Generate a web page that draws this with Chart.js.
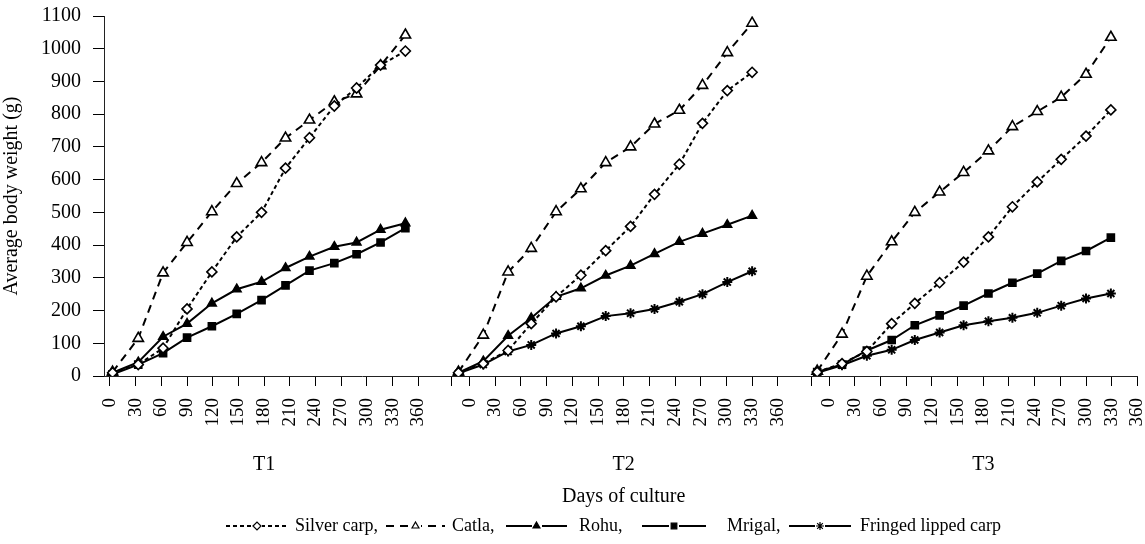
<!DOCTYPE html>
<html>
<head>
<meta charset="utf-8">
<script src="https://cdn.jsdelivr.net/npm/chart.js@4.4.0/dist/chart.umd.min.js"></script>
<style>
  html, body { margin: 0; padding: 0; background: #fff; }
</style>
</head>
<body>
<canvas id="growth-chart" width="1145" height="544"></canvas>
<script>
// panels and axis labels
const panelNames = ["T1", "T2", "T3"];
const dayLabels = [0, 30, 60, 90, 120, 150, 180, 210, 240, 270, 300, 330, 360];

// sampling positions (days)
const daysT1 = [3, 33, 62, 90, 119, 148, 177, 205, 233, 262, 288, 316, 345];
const daysT2 = [-13, 16, 45, 72, 101, 130, 159, 188, 216, 245, 272, 301, 330];
const daysT3 = [-14, 15, 44, 73, 100, 129, 157, 186, 214, 243, 271, 300, 329];

// average body weight (g)
const silverT1 = [10, 35, 85, 205, 318, 425, 500, 635, 728, 825, 880, 950, 993];
const silverT2 = [10, 38, 78, 160, 242, 308, 383, 457, 555, 647, 772, 872, 928];
const silverT3 = [12, 38, 75, 160, 222, 285, 348, 425, 517, 593, 662, 733, 813];

const catlaT1 = [12, 115, 315, 408, 502, 588, 652, 727, 782, 838, 862, 948, 1042];
const catlaT2 = [12, 125, 318, 390, 502, 572, 652, 700, 770, 812, 888, 988, 1078];
const catlaT3 = [15, 128, 305, 410, 500, 562, 622, 688, 762, 808, 852, 922, 1035];

const rohuT1 = [10, 42, 120, 160, 222, 265, 288, 330, 365, 395, 408, 447, 467];
const rohuT2 = [10, 45, 123, 177, 242, 268, 307, 337, 373, 410, 435, 462, 490];
const rohuT3 = [];

const mrigalT1 = [5, 35, 70, 117, 152, 190, 232, 277, 322, 345, 372, 408, 452];
const mrigalT2 = [];
const mrigalT3 = [12, 35, 78, 110, 155, 185, 215, 252, 285, 313, 352, 382, 423];

const fringedT1 = [];
const fringedT2 = [8, 35, 75, 95, 130, 152, 183, 192, 205, 227, 250, 287, 320];
const fringedT3 = [10, 33, 62, 80, 110, 133, 155, 167, 178, 193, 215, 237, 252];

const PANEL_SPAN = 420; // one empty slot between panels
const panelDays = [daysT1, daysT2, daysT3];
const FONT = "'Liberation Serif', 'Times New Roman', serif";

function series(t1, t2, t3) {
  const out = [];
  [t1, t2, t3].forEach((vals, p) => {
    vals.forEach((v, i) => out.push({ x: p * PANEL_SPAN + panelDays[p][i], y: v }));
    out.push({ x: p * PANEL_SPAN + 390, y: null });
  });
  return out;
}

function tickValues() {
  const vals = [];
  panelNames.forEach((n, p) => {
    if (p > 0) vals.push(p * PANEL_SPAN - 21);
    dayLabels.forEach((d) => vals.push(p * PANEL_SPAN + d));
  });
  return vals;
}

const base = {
  borderColor: "#000",
  pointBorderColor: "#000",
  borderWidth: 2,
  pointBorderWidth: 1.6,
  tension: 0,
  spanGaps: false,
};

const datasets = [
  { ...base, label: "Silver carp,", data: series(silverT1, silverT2, silverT3),
    borderDash: [4, 3], pointStyle: "rectRot", pointRadius: 5, pointBackgroundColor: "#fff" },
  { ...base, label: "Catla,", data: series(catlaT1, catlaT2, catlaT3),
    borderDash: [8, 6], pointStyle: "triangle", pointRadius: 6, pointBackgroundColor: "#fff" },
  { ...base, label: "Rohu,", data: series(rohuT1, rohuT2, rohuT3),
    pointStyle: "triangle", pointRadius: 5, pointBackgroundColor: "#000" },
  { ...base, label: "Mrigal,", data: series(mrigalT1, mrigalT2, mrigalT3),
    pointStyle: "rect", pointRadius: 5, pointBackgroundColor: "#000" },
  { ...base, label: "Fringed lipped carp", data: series(fringedT1, fringedT2, fringedT3),
    pointStyle: "star", pointRadius: 5, pointBorderWidth: 2, pointBackgroundColor: "#000" },
];

// legend sample positions: [line start, line end, text x]
const legendSlots = [
  [226, 288, 295],
  [386, 445, 452],
  [506, 567, 579],
  [642, 706, 727],
  [789, 851, 860],
];

const extrasPlugin = {
  id: "extras",
  afterDraw(chart) {
    const ctx = chart.ctx;
    const xs = chart.scales.x;
    ctx.save();
    ctx.fillStyle = "#000";
    ctx.textBaseline = "middle";
    ctx.font = "20px " + FONT;
    ctx.textAlign = "center";
    panelNames.forEach((n, p) => {
      ctx.fillText(n, xs.getPixelForValue(p * PANEL_SPAN + 180), 465);
    });
    ctx.fillText("Days of culture", xs.getPixelForValue(PANEL_SPAN + 180), 497);

    // legend
    const y = 526;
    ctx.textAlign = "left";
    ctx.font = "18px " + FONT;
    chart.data.datasets.forEach((ds, i) => {
      const [x0, x1, tx] = legendSlots[i];
      ctx.strokeStyle = "#000";
      ctx.lineWidth = 2;
      ctx.setLineDash(ds.borderDash || []);
      ctx.beginPath();
      ctx.moveTo(x0, y);
      ctx.lineTo(x1, y);
      ctx.stroke();
      ctx.setLineDash([]);
      const mx = (x0 + x1) / 2;
      ctx.fillStyle = ds.pointBackgroundColor;
      ctx.clearRect(mx - 5, y - 5, 10, 10);
      ctx.lineWidth = 1.2;
      Chart.helpers.drawPoint(ctx, { pointStyle: ds.pointStyle, radius: 4, borderWidth: 1.2, rotation: 0 }, mx, y);
      ctx.fillStyle = "#000";
      ctx.fillText(ds.label, tx, y);
    });
    ctx.restore();
  },
};

new Chart(document.getElementById("growth-chart"), {
  type: "line",
  data: { datasets },
  plugins: [extrasPlugin],
  options: {
    responsive: false,
    animation: false,
    layout: { padding: { top: 16, right: 3, bottom: 0, left: 0 } },
    plugins: { legend: { display: false }, tooltip: { enabled: false } },
    scales: {
      x: {
        type: "linear",
        min: -7,
        max: 1200,
        afterBuildTicks(scale) {
          scale.ticks = tickValues().map((v) => ({ value: v }));
        },
        afterFit(scale) {
          scale.height = 168;
          scale.paddingLeft = 0;
          scale.paddingRight = 0;
        },
        ticks: {
          autoSkip: false,
          minRotation: 90,
          maxRotation: 90,
          padding: 12,
          color: "#000",
          font: { family: FONT, size: 19 },
          callback(value) {
            const p = Math.floor((value + 30) / PANEL_SPAN);
            const local = Math.round(value - p * PANEL_SPAN);
            return dayLabels.includes(local) ? String(local) : "";
          },
        },
        grid: { drawOnChartArea: false, tickLength: 10, color: "#000" },
        border: { color: "#222", width: 1 },
      },
      y: {
        min: 0,
        max: 1100,
        afterFit(scale) {
          scale.width = 104;
          scale.paddingTop = 0;
          scale.paddingBottom = 0;
        },
        ticks: {
          stepSize: 100,
          padding: 12,
          color: "#000",
          font: { family: FONT, size: 20 },
          callback: (value) => String(value),
        },
        title: {
          display: true,
          text: "Average body weight (g)",
          color: "#000",
          font: { family: FONT, size: 20 },
          padding: { top: 0, bottom: 2 },
        },
        grid: { drawOnChartArea: false, tickLength: 11, color: "#000" },
        border: { color: "#222", width: 1 },
      },
    },
  },
});
</script>
</body>
</html>
